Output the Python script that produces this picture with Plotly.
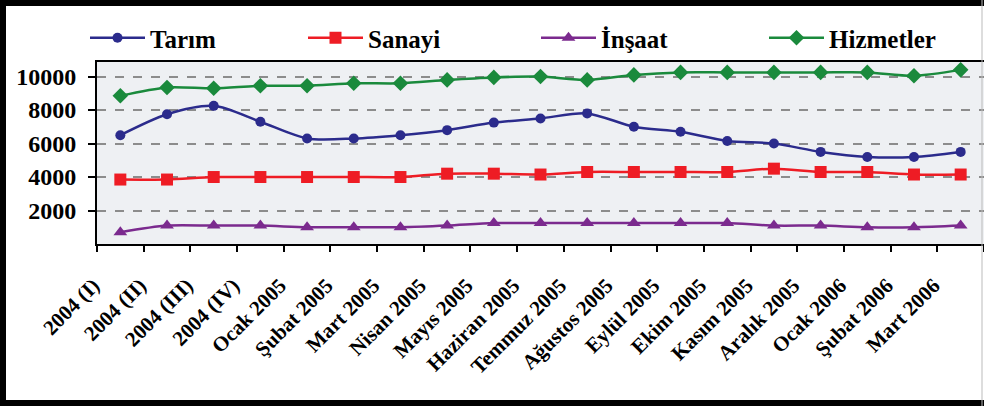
import plotly.graph_objects as go

categories = ["2004 (I)", "2004 (II)", "2004 (III)", "2004 (IV)", "Ocak 2005", "Şubat 2005",
              "Mart 2005", "Nisan 2005", "Mayıs 2005", "Haziran 2005", "Temmuz 2005",
              "Ağustos 2005", "Eylül 2005", "Ekim 2005", "Kasım 2005", "Aralık 2005",
              "Ocak 2006", "Şubat 2006", "Mart 2006"]

tarim = [6500, 7750, 8250, 7300, 6300, 6300, 6500, 6800, 7250, 7500, 7800,
         7000, 6700, 6150, 6000, 5500, 5200, 5200, 5500]
sanayi = [3850, 3850, 4000, 4000, 4000, 4000, 4000, 4200, 4200, 4150, 4300,
          4300, 4300, 4300, 4500, 4300, 4300, 4150, 4150]
insaat = [700, 1100, 1100, 1100, 1000, 1000, 1000, 1100, 1250, 1250, 1250,
          1250, 1250, 1250, 1100, 1100, 1000, 1000, 1100]
hizmetler = [8850, 9350, 9300, 9450, 9450, 9600, 9600, 9800, 9950, 10000, 9800,
             10100, 10250, 10250, 10250, 10250, 10250, 10050, 10400]

y_ticks = [2000, 4000, 6000, 8000, 10000]

W, H = 984, 406
ML, MR, MT, MB = 97, 0, 62, 162
PW, PH = W - ML - MR, H - MT - MB

FONT = "Liberation Serif, Times New Roman, serif"

series = [
    ("Tarım", tarim, "#2b2b8c", "circle", 10),
    ("Sanayi", sanayi, "#ee1c24", "square", 12),
    ("İnşaat", insaat, "#7b2a8e", "triangle-up", 12),
    ("Hizmetler", hizmetler, "#1a8a3c", "diamond", 12),
]
legend_left_px = [85, 303, 536, 764]


def px_x(p):
    return (p - ML) / PW


def px_y(p):
    return (H - MB - p) / PH


fig = go.Figure()
legend_layout = {}
for i, (name, vals, col, sym, sz) in enumerate(series):
    lid = "legend" if i == 0 else f"legend{i + 1}"
    fig.add_trace(go.Scatter(
        x=categories, y=vals, name=name, mode="lines+markers",
        line=dict(color=col, width=2.5, shape="spline", smoothing=0.8),
        marker=dict(color=col, symbol=sym, size=sz),
        legend=lid,
    ))
    legend_layout[lid] = dict(
        orientation="h", x=px_x(legend_left_px[i]), xanchor="left",
        y=px_y(38), yanchor="middle",
        font=dict(family=FONT, size=25, color="black", weight="bold"),
        itemwidth=55, bgcolor="rgba(0,0,0,0)", borderwidth=0,
    )

shapes = [
    dict(type="rect", xref="paper", yref="paper",
         x0=px_x(3), x1=px_x(W + 10), y0=px_y(3), y1=px_y(H - 3),
         line=dict(color="black", width=6), fillcolor="rgba(0,0,0,0)", layer="above"),
    dict(type="line", xref="paper", yref="paper", x0=px_x(W - 2), x1=px_x(W - 2), y0=px_y(0), y1=px_y(H),
         line=dict(color="#bbbbbb", width=1)),
]

fig.update_layout(
    width=W, height=H,
    margin=dict(l=ML, r=MR, t=MT, b=MB, pad=0, autoexpand=False),
    paper_bgcolor="white",
    plot_bgcolor="#eef0f3",
    font=dict(family=FONT, color="black", weight="bold"),
    showlegend=True,
    xaxis=dict(
        type="category", tickson="boundaries", ticks="outside", ticklen=6,
        tickcolor="black", tickwidth=2, showline=True, linecolor="black", linewidth=2,
        mirror=True, showgrid=False, tickangle=-45, automargin=False,
        tickfont=dict(family=FONT, size=21, color="black", weight="bold"),
        ticklabelshift=-27, ticklabelstandoff=19,
        range=[-0.5, len(categories) - 0.5],
    ),
    yaxis=dict(
        range=[0, 10870], tickvals=y_ticks, ticktext=[str(v) for v in y_ticks],
        ticks="outside", ticklen=7, tickcolor="black", tickwidth=2,
        showline=True, linecolor="black", linewidth=2, automargin=False,
        showgrid=True, gridcolor="#8c8c8c", gridwidth=1.5, griddash="dash",
        zeroline=False, ticklabelstandoff=7,
        tickfont=dict(family=FONT, size=24, color="black", weight="bold"),
    ),
    shapes=shapes,
    **legend_layout,
)

fig.write_html(
    "out.html",
    config={"displayModeBar": False},
    post_script="document.body.style.margin='0';document.body.style.overflow='hidden';",
)
